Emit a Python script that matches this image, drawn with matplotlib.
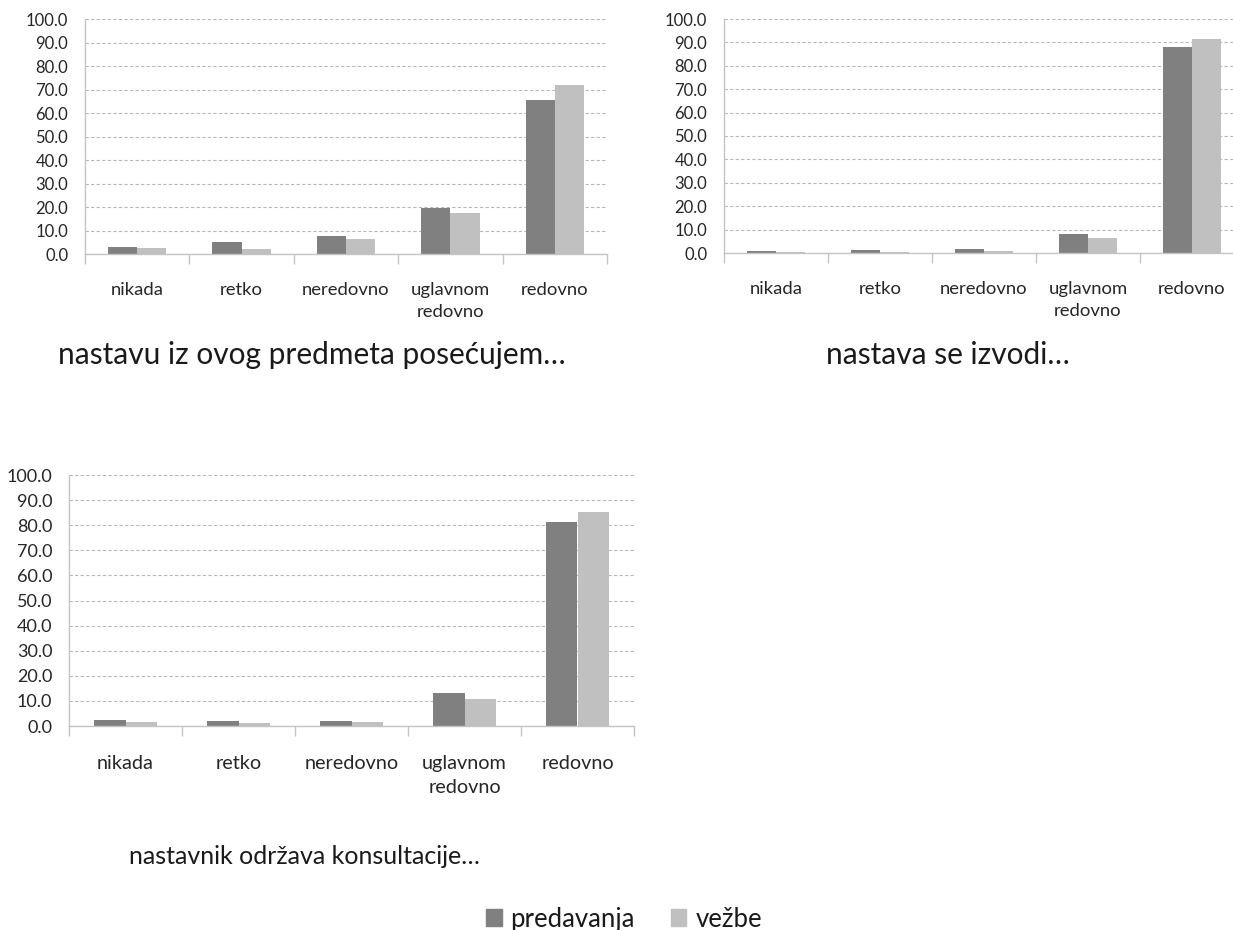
import numpy as np
from matplotlib import pyplot as plt

categories = ['nikada', 'retko', 'neredovno', 'uglavnom\nredovno', 'redovno']
series_names = ['predavanja', 'vežbe']

# vrednosti po panelima (predavanja, vežbe)
posecujem_pred = [2.8, 4.9, 7.7, 19.7, 65.4]
posecujem_vezbe = [2.4, 2.1, 6.2, 17.5, 72.1]

izvodi_pred = [0.9, 1.1, 1.6, 8.3, 88.0]
izvodi_vezbe = [0.4, 0.3, 1.0, 6.6, 91.4]

konsult_pred = [2.2, 1.9, 1.9, 13.1, 81.1]
konsult_vezbe = [1.6, 1.1, 1.5, 10.8, 85.2]

titles = ['nastavu iz ovog predmeta posećujem…', 'nastava se izvodi…',
          'nastavnik održava konsultacije…']

DARK = '#808080'
LIGHT = '#c0c0c0'
AXIS = '#c4c4c4'
W, H = 1233, 930

plt.rcParams['font.family'] = ['Lato', 'DejaVu Sans']
plt.rcParams['text.color'] = '#1a1a1a'


def draw_panel(ax, pred, vezbe, fs=12.0, xfs=13.3, xpad=20):
    x = np.arange(len(categories))
    w = 0.28
    ax.bar(x - w / 2, pred, w, color=DARK, zorder=3)
    ax.bar(x + w / 2, vezbe, w, color=LIGHT, zorder=3)
    ax.set_xlim(-0.5, len(categories) - 0.5)
    ax.set_ylim(0, 100)
    ax.set_yticks(np.arange(0, 101, 10))
    ax.set_yticklabels([f'{v:.1f}' for v in np.arange(0, 101, 10)], fontsize=fs,
                       color='#262626')
    ax.set_xticks(x)
    ax.set_xticklabels(categories, fontsize=xfs, linespacing=1.5, color='#262626')
    ax.set_xticks(np.arange(-0.5, len(categories)), minor=True)
    ax.tick_params(axis='x', which='major', length=0, pad=xpad)
    ax.tick_params(axis='x', which='minor', length=7, color=AXIS, width=1.0)
    ax.tick_params(axis='y', length=0, pad=12)
    ax.yaxis.grid(True, linestyle=(0, (3, 2)), color='#b8b8b8', linewidth=0.8, zorder=0)
    for s in ['top', 'right']:
        ax.spines[s].set_visible(False)
    for s in ['left', 'bottom']:
        ax.spines[s].set_color(AXIS)
        ax.spines[s].set_linewidth(1.0)
    ax.spines['bottom'].set_zorder(4)


def box(left, right, top, bottom):
    return [left / W, 1 - bottom / H, (right - left) / W, (bottom - top) / H]


fig = plt.figure(figsize=(W / 100, H / 100), dpi=100)

ax1 = fig.add_axes(box(85, 607, 19, 254))
ax2 = fig.add_axes(box(724, 1244, 19, 253))
ax3 = fig.add_axes(box(69, 634, 475, 726))

draw_panel(ax1, posecujem_pred, posecujem_vezbe)
draw_panel(ax2, izvodi_pred, izvodi_vezbe)
draw_panel(ax3, konsult_pred, konsult_vezbe, fs=13.0, xfs=14.3, xpad=21)

fig.text(312 / W, 1 - 355 / H, titles[0], fontsize=21.5, ha='center', va='center')
fig.text(948 / W, 1 - 355 / H, titles[1], fontsize=21.5, ha='center', va='center')
fig.text(304 / W, 1 - 856 / H, titles[2], fontsize=18, ha='center', va='center')

handles = [plt.Rectangle((0, 0), 1, 1, color=DARK), plt.Rectangle((0, 0), 1, 1, color=LIGHT)]
fig.legend(handles, series_names, loc='center', bbox_to_anchor=(624 / W, 1 - 919 / H),
           ncol=2, frameon=False, fontsize=18.5, handlelength=0.6, handleheight=0.6,
           handletextpad=0.35, columnspacing=1.4, borderpad=0)

plt.savefig('out.png', dpi=100)
